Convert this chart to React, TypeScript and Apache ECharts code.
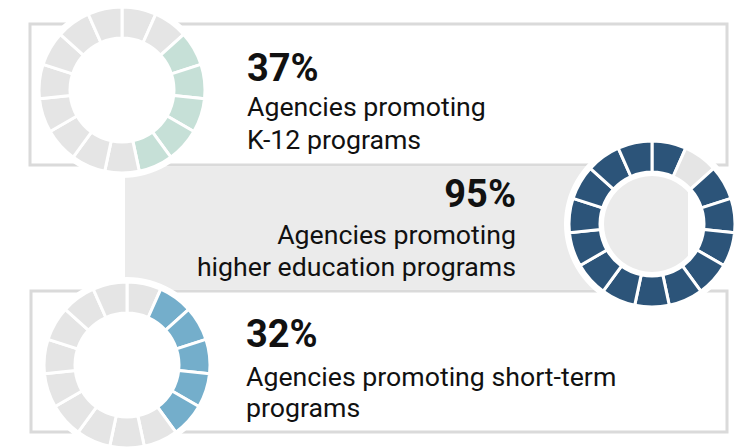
import React, { useEffect, useRef } from "react";
import * as echarts from "echarts";

// Values
const percentLabels = ["37%", "95%", "32%"];
const captionLines = [
  ["Agencies promoting", "K-12 programs"],
  ["Agencies promoting", "higher education programs"],
  ["Agencies promoting short-term", "programs"],
];
// Each donut has 15 segments, clockwise from 12 o'clock; 1 = filled, 0 = empty
const k12Segments = [0, 0, 1, 1, 1, 1, 1, 0, 0, 0, 0, 0, 0, 0, 0];
const higherEdSegments = [1, 0, 1, 1, 1, 1, 1, 1, 1, 1, 1, 1, 1, 1, 1];
const shortTermSegments = [0, 1, 1, 1, 1, 1, 0, 0, 0, 0, 0, 0, 0, 0, 0];

const fillColors = ["#c6e0d7", "#2c5479", "#74aecb"];
const emptyColor = "#e5e5e5";

const donutCenters: [number, number][] = [
  [122, 90],
  [652, 224],
  [127, 365],
];
const segmentSets = [k12Segments, higherEdSegments, shortTermSegments];

export default function App() {
  const ref = useRef<HTMLDivElement>(null);
  useEffect(() => {
    document.body.style.margin = "0";
    if (!ref.current) return;
    const chart = echarts.init(ref.current, undefined, { renderer: "svg" });

    const series: any[] = [];
    segmentSets.forEach((segs, i) => {
      series.push({
        type: "pie",
        silent: true,
        z: 3,
        center: donutCenters[i],
        radius: [48, 88],
        startAngle: 90,
        label: { show: false },
        labelLine: { show: false },
        data: [{ value: 1, itemStyle: { color: "#ffffff" } }],
      });
      series.push({
        type: "pie",
        silent: true,
        z: 4,
        center: donutCenters[i],
        radius: [52, 83],
        startAngle: 90,
        clockwise: true,
        label: { show: false },
        labelLine: { show: false },
        itemStyle: { borderColor: "#ffffff", borderWidth: 3 },
        data: segs.map((s, k) => ({
          name: "seg" + k,
          value: 1,
          itemStyle: { color: s ? fillColors[i] : emptyColor },
        })),
      });
    });

    const boldFont = "bold 38px Roboto";
    const regFont = "26.7px Roboto";
    const textColor = "#111111";

    const graphics: any[] = [
      {
        type: "rect",
        z: 0,
        shape: { x: 30, y: 24, width: 697, height: 141 },
        style: { fill: "#ffffff", stroke: "#dadada", lineWidth: 3 },
      },
      {
        type: "rect",
        z: 0,
        shape: { x: 125, y: 167, width: 563, height: 122 },
        style: { fill: "#ebebeb" },
      },
      {
        type: "rect",
        z: 0,
        shape: { x: 31, y: 291, width: 696, height: 141 },
        style: { fill: "#ffffff", stroke: "#dadada", lineWidth: 3 },
      },
    ];

    const textBlocks = [
      { x: 247, align: "left", ys: [68, 107, 140] },
      { x: 516, align: "right", ys: [194, 235, 267] },
      { x: 246, align: "left", ys: [334, 377, 408] },
    ];
    textBlocks.forEach((b, i) => {
      graphics.push({
        type: "text",
        z: 1,
        x: b.x,
        y: b.ys[0],
        style: {
          text: percentLabels[i],
          font: boldFont,
          fill: textColor,
          textAlign: b.align,
          textVerticalAlign: "middle",
        },
      });
      captionLines[i].forEach((line, j) => {
        graphics.push({
          type: "text",
          z: 1,
          x: b.x,
          y: b.ys[j + 1],
          style: {
            text: line,
            font: regFont,
            fill: textColor,
            textAlign: b.align,
            textVerticalAlign: "middle",
          },
        });
      });
    });

    chart.setOption({
      animation: false,
      backgroundColor: "#ffffff",
      graphic: { elements: graphics },
      series,
    });
    return () => chart.dispose();
  }, []);
  return <div ref={ref} style={{ width: 743, height: 447 }} />;
}
